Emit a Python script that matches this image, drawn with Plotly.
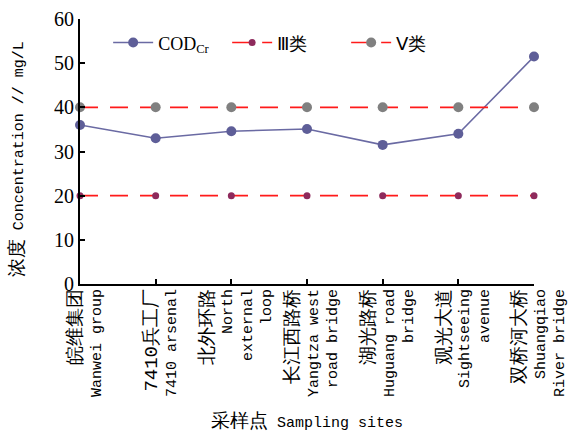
import plotly.graph_objects as go

sites_cn = ["皖维集团", "7410兵工厂", "北外环路", "长江西路桥", "湖光路桥", "观光大道", "双桥河大桥"]
sites_en = ["Wanwei group", "7410 arsenal", "North<br>external<br>loop", "Yangtza west<br>road bridge",
            "Huguang road<br>bridge", "Sightseeing<br>avenue", "Shuangqiao<br>River bridge"]
cod = [36.0, 33.0, 34.6, 35.1, 31.5, 34.0, 51.5]
class3 = [20, 20, 20, 20, 20, 20, 20]
class5 = [40, 40, 40, 40, 40, 40, 40]
y_ticks = [0, 10, 20, 30, 40, 50, 60]

CJK = "<span style='font-size:19px'>{}</span>"
labels = [CJK.format(c) + "<br>" + e for c, e in zip(sites_cn, sites_en)]
x = list(range(len(labels)))

MONO = "Courier New"
SERIF = "Liberation Serif"

fig = go.Figure()
fig.add_trace(go.Scatter(
    x=x, y=cod, name="COD<sub>Cr</sub>", mode="lines+markers",
    line=dict(color="#6a6aa3", width=1.6),
    marker=dict(color="#5e5e98", size=10), cliponaxis=False))
fig.add_trace(go.Scatter(
    x=x, y=class3, name="Ⅲ类", mode="lines+markers",
    line=dict(color="#ff1a1a", width=1.6, dash="18px,12px"),
    marker=dict(color="#8e2a5c", size=7), cliponaxis=False))
fig.add_trace(go.Scatter(
    x=x, y=class5, name="Ⅴ类", mode="lines+markers",
    line=dict(color="#ff1a1a", width=1.6, dash="18px,12px"),
    marker=dict(color="#808080", size=10), cliponaxis=False))

fig.update_layout(
    template="none",
    width=571, height=433,
    font=dict(family=SERIF, color="black"),
    margin=dict(l=80, r=37, t=19, b=149),
    paper_bgcolor="white", plot_bgcolor="white",
    showlegend=True,
    legend=dict(orientation="h", x=0.062, y=0.91, xanchor="left", yanchor="middle",
                font=dict(family=SERIF, size=18, color="black"),
                bgcolor="rgba(0,0,0,0)", entrywidth=64, entrywidthmode="pixels",
                itemwidth=40),
    xaxis=dict(
        tickmode="array", tickvals=x, ticktext=labels, tickangle=-90,
        range=[0, len(x) - 1], showgrid=False, zeroline=False,
        showline=True, linecolor="black", linewidth=2,
        ticks="inside", ticklen=5, tickcolor="black", tickwidth=1.5,
        tickfont=dict(family=MONO, size=15, color="black"),
        ticklabelshift=6, ticklabelstandoff=-3, ticklabeloverflow="allow",
        automargin=False),
    yaxis=dict(
        range=[0, 60], tickvals=y_ticks, showgrid=False, zeroline=False,
        showline=True, linecolor="black", linewidth=2,
        ticks="inside", ticklen=5, tickcolor="black", tickwidth=1.5,
        tickfont=dict(family=SERIF, size=20, color="black"),
        automargin=False),
    annotations=[
        dict(text=CJK.format("采样点") + " Sampling sites", xref="paper", yref="paper",
             x=0.5, y=-0.52, xanchor="center", yanchor="middle", showarrow=False,
             font=dict(family=MONO, size=15, color="black")),
        dict(text=CJK.format("浓度") + " Concentration // mg/L", xref="paper", yref="paper",
             x=-0.137, y=0.47, xanchor="center", yanchor="middle", showarrow=False,
             textangle=-90, font=dict(family=MONO, size=15, color="black")),
    ],
)

fig.write_html("out.html", config={"displayModeBar": False},
               post_script="document.body.style.margin='0px';document.body.style.padding='0px';")
